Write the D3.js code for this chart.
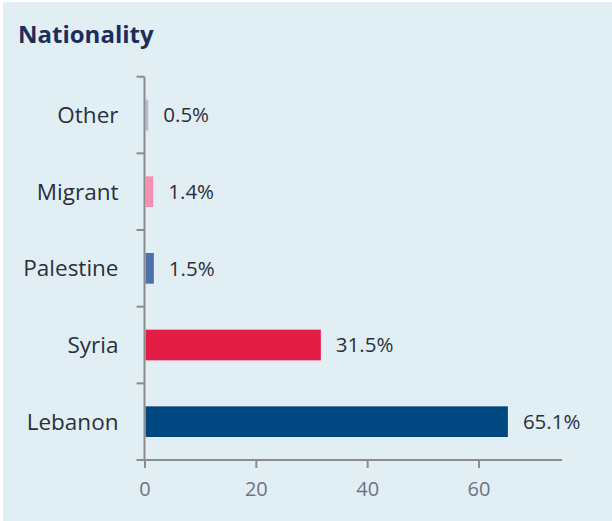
<!DOCTYPE html>
<html>
<head>
<meta charset="utf-8">
<script src="https://cdn.jsdelivr.net/npm/d3@7"></script>
<style>
  body { margin: 0; background: #fff; }
  svg { display: block; }
  text { font-family: "Open Sans", sans-serif; }
</style>
</head>
<body>
<svg width="612" height="521"></svg>
<script>
// data
var categories = ["Lebanon", "Syria", "Palestine", "Migrant", "Other"];
var values = [65.1, 31.5, 1.5, 1.4, 0.5];
var colors = ["#004681", "#e41d47", "#4b70aa", "#f391b3", "#b8bacd"];
var xTicks = [0, 20, 40, 60];

var svg = d3.select("svg");
var width = +svg.attr("width");
var height = +svg.attr("height");

// panel background
svg.append("rect")
  .attr("x", 3).attr("y", 2)
  .attr("width", width - 3).attr("height", height - 2)
  .attr("fill", "#e1eff5");

svg.append("text")
  .attr("x", 18).attr("y", 43)
  .attr("fill", "#1c2d5a")
  .style("font-size", "24px")
  .style("font-weight", "bold")
  .text("Nationality");

// plot area (note: "top" is reserved on window, so use plot* names)
var plotLeft = 144.5, plotTop = 76.7, plotBottom = 460, plotRight = 562;

var x = d3.scaleLinear().domain([0, 75]).range([plotLeft, plotRight]);
var y = d3.scaleBand()
  .domain(categories.slice().reverse())
  .range([plotTop, plotBottom])
  .paddingInner(0.6)
  .paddingOuter(0.3);

var rows = categories.map(function (c, i) {
  return { name: c, value: values[i], color: colors[i] };
});

var g = svg.append("g");

// bars
g.selectAll("rect.bar")
  .data(rows)
  .enter()
  .append("rect")
  .attr("class", "bar")
  .attr("x", x(0) + 1)
  .attr("y", function (d) { return y(d.name); })
  .attr("width", function (d) { return x(d.value) - x(0); })
  .attr("height", y.bandwidth())
  .attr("fill", function (d) { return d.color; });

// value labels
g.selectAll("text.val")
  .data(rows)
  .enter()
  .append("text")
  .attr("class", "val")
  .attr("x", function (d) { return x(d.value) + 16; })
  .attr("y", function (d) { return y(d.name) + y.bandwidth() / 2; })
  .attr("dy", "0.35em")
  .attr("fill", "#2b2f3c")
  .style("font-size", "20.5px")
  .text(function (d) { return d.value.toFixed(1) + "%"; });

// y axis with ticks at band edges
var yBand = d3.scaleBand().domain(y.domain()).range([plotTop, plotBottom]);
var yAxis = g.append("g").attr("transform", "translate(" + plotLeft + ",0)");
yAxis.append("line")
  .attr("y1", plotTop).attr("y2", plotBottom)
  .attr("stroke", "#8c8c8c").attr("stroke-width", 2);
var edges = y.domain().map(function (c) { return yBand(c); });
yAxis.selectAll("line.tick")
  .data(edges)
  .enter()
  .append("line")
  .attr("class", "tick")
  .attr("x1", -8).attr("x2", 0)
  .attr("y1", function (d) { return d; })
  .attr("y2", function (d) { return d; })
  .attr("stroke", "#8c8c8c").attr("stroke-width", 2);
yAxis.selectAll("text")
  .data(categories)
  .enter()
  .append("text")
  .attr("x", -26)
  .attr("y", function (d) { return y(d) + y.bandwidth() / 2; })
  .attr("dy", "0.35em")
  .attr("text-anchor", "end")
  .attr("fill", "#2b2f3c")
  .style("font-size", "22.5px")
  .text(function (d) { return d; });

// x axis
var xAxis = d3.axisBottom(x).tickValues(xTicks).tickSize(8).tickPadding(14).tickSizeOuter(0);
var xg = g.append("g")
  .attr("transform", "translate(0," + plotBottom + ")")
  .call(xAxis);
xg.select(".domain").attr("stroke", "#8c8c8c").attr("stroke-width", 2)
  .attr("d", "M" + (plotLeft - 8) + ",0H" + plotRight);
xg.selectAll(".tick line").attr("stroke", "#8c8c8c").attr("stroke-width", 2);
xg.selectAll(".tick text")
  .attr("fill", "#6e737d")
  .style("font-size", "20px")
  .style("font-family", "'Open Sans', sans-serif");
</script>
</body>
</html>
